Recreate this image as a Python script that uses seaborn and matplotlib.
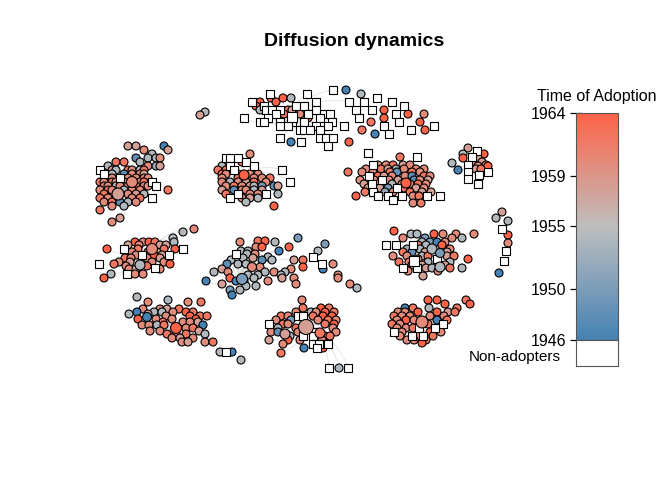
"""
Diffusion dynamics: network plot of adopters coloured by time of adoption.
Node positions are the layout read off the reference picture (pixel units).
"""

import numpy as np
import pandas as pd
import matplotlib
matplotlib.use("Agg")
import matplotlib.pyplot as plt
import seaborn as sns
from matplotlib.colors import LinearSegmentedColormap, Normalize
from matplotlib.collections import LineCollection

# ── data: one block per community, "y = x:code ..." ; code w = non-adopter,
#    digit d = adopted in 1946 + 2*d ─────────────────────────────────────────
LEFT = """
146 = 128:6 136:6 164:0
150 = 144:7 168:6
154 = 152:4
158 = 136:1 148:4 156:4 160:7
162 = 116:8 124:8 140:4
166 = 108:4 148:7 156:3 160:6
170 = 100:w 112:7 116:4 128:8 132:7 140:4 144:8
174 = 104:w 112:4 124:1 132:7 140:7 144:6
178 = 108:8 112:7 120:w 128:7 136:7 144:8 148:7
182 = 100:8 104:7 112:8 116:7 124:7 132:6 140:7 144:8 152:w
186 = 104:8 108:7 116:4 120:7 128:7 136:8 144:7 148:7 156:w
190 = 100:7 108:8 112:7 124:4 132:7 140:7 168:8
194 = 104:8 120:7 128:7 136:6 144:4
198 = 100:8 108:7 116:8 132:7 140:8 152:w
202 = 104:7 112:8 120:1 128:4 136:7
206 = 112:7 124:4
210 = 100:8
218 = 120:6
222 = 112:7
"""

CENTER_LEFT = """
154 = 250:7
158 = 226:w 230:w 238:w
162 = 242:8 246:w
166 = 222:4 230:w 254:w
170 = 218:8 226:8 234:w 282:w
174 = 222:8 226:7 238:7 250:7 258:7
178 = 222:7 238:8 254:7 262:7 270:8
182 = 222:7 230:4 238:7 246:6 254:8 266:7 290:w
186 = 226:7 234:8 242:7 250:6 254:4 262:2 274:1 278:6
190 = 222:6 234:1 242:7 246:7 254:4 262:6
194 = 226:8 238:w 250:7 258:7 266:w 278:4
198 = 230:w 242:7 250:6 258:4
202 = 246:4
206 = 274:9
"""

TOP = """
90 = 333:w 346:0
94 = 270:w 307:w 361:4
98 = 271:9 283:9 291:4 377:w
102 = 252:w 260:9 276:9 316:w 349:w 364:w 392:w
106 = 256:9 264:w 296:w 304:w 404:w
110 = 260:4 266:w 272:w 280:w 288:8 292:6 316:w 356:w 372:w 384:9
114 = 276:w 284:8 300:7 308:w 324:w 330:w 396:w 408:9 424:7
118 = 244:w 268:w 308:9 320:w 359:w 384:9
122 = 260:w 264:w 280:w 292:w 304:w 332:w 371:8 399:w 420:9
126 = 280:w 288:w 316:w 328:w 344:w 384:w 434:w
130 = 300:w 304:w 310:w 320:w 362:8 411:w 425:9
134 = 375:0 389:w
138 = 280:w 320:w 326:w 333:w
142 = 291:0 301:w 349:9
146 = 328:w
"""

TOP_RIGHT = """
148 = 468:6
151 = 477:w
154 = 463:4 484:9
157 = 472:w
158 = 463:9 478:6
162 = 473:7 482:6
163 = 452:4
165 = 468:w 486:7
166 = 478:7 488:9
169 = 476:6 481:8
170 = 458:0
172 = 468:w 488:w
175 = 479:w
179 = 468:w
184 = 478:w
"""

CENTER_RIGHT = """
153 = 368:w
157 = 400:8 417:w
165 = 373:w 378:7 386:7 393:8 403:6 410:7
169 = 366:7 381:8 388:6 396:4 404:7 416:7 424:7
172 = 348:8 362:7 373:7 390:8 397:1 412:8 420:7
176 = 369:w 378:8 384:6 392:7 405:7 412:1 424:8 430:7
180 = 360:7 374:7 382:w 389:7 398:6 414:1 420:7 428:6
184 = 364:6 372:w 378:7 392:4 402:7 410:7 418:8 426:7
188 = 368:7 380:6 388:2 397:w 404:8 416:6 424:7
192 = 365:8 373:w 385:3 393:7 410:8 422:6 431:6
196 = 356:9 378:w 388:w 402:w 413:7 419:8 427:w 440:w
200 = 393:w
203 = 413:7 421:8
"""

MID_LEFT = """
229 = 194:7
232 = 183:4
238 = 173:4
242 = 135:9 143:7 149:9 155:8 174:4
245 = 128:6 139:7 160:6 166:6
249 = 107:9 124:w 138:8 164:8 175:9 183:w
252 = 132:7 148:7 157:6
255 = 136:7 142:w 154:9 162:6 169:w
258 = 125:8 131:7 147:7 160:6
262 = 119:7 130:6 152:7 164:7
264 = 99:w 114:8 170:9
266 = 126:7 147:8
268 = 155:w
269 = 129:7 136:6 160:7
274 = 111:4 127:w 135:7 143:7
278 = 104:9
"""

MID_CENTER = """
238 = 298:2
241 = 258:8 265:9
242 = 240:7 275:4
244 = 325:2
247 = 256:7 262:9 289:9
251 = 241:4 248:4 279:0 318:4
254 = 236:w 247:4 255:7
257 = 268:4 313:w
258 = 243:4 253:6
260 = 231:4 262:1 272:4 294:6 303:8
264 = 227:1 238:4 246:4 322:w 333:7
267 = 260:7 303:9
269 = 222:6 291:7 323:0
272 = 214:4 228:7 265:4 274:7 285:4
275 = 248:4 258:4 281:4 338:7
278 = 230:9 254:4 282:6 294:7 338:7
281 = 206:0 236:0 244:6 268:7
284 = 222:6 296:7 350:7
286 = 246:4 256:4
288 = 357:4
290 = 230:2 240:4
295 = 232:0
"""

MID_RIGHT = """
231 = 394:9
234 = 411:4 417:4 434:9 443:7 456:7 474:7
238 = 403:7 425:2 452:7 462:4
242 = 422:4 430:2 437:0 445:7
245 = 386:w 396:w 413:w 418:8 426:4 442:9
249 = 407:3 420:4 450:7
252 = 403:8 412:1 425:6 447:6
256 = 393:7 407:7 422:4 428:8 447:6 454:8
259 = 418:7 437:w 468:9
262 = 399:8 409:8 428:4 450:4
265 = 412:7 422:6 445:6
268 = 403:w 417:w 426:6 432:4 450:8 462:4
271 = 408:7 438:7
276 = 423:6
"""

BOT_LEFT = """
297 = 137:4
300 = 168:4
302 = 148:7 188:7 201:8
309 = 143:7 160:7 167:6 179:8
312 = 137:0 154:4 162:4 173:7 186:9 193:8
314 = 129:4 148:6
316 = 166:7 190:9 200:8 207:8
319 = 138:9 156:7 172:7 196:9
322 = 163:8 183:7 190:7 198:6
325 = 142:7 149:7 157:4 164:8 203:0
328 = 186:7 193:8
331 = 150:7 160:7 199:6
334 = 167:8 176:7 186:8 205:4
338 = 172:7 180:6 193:7
342 = 182:7 188:6 205:7 213:8
352 = 220:4 226:w 232:0
360 = 241:4
"""

BOT_CENTER = """
300 = 302:7
308 = 303:8 321:9 329:8
312 = 296:7 311:4 316:7 325:9 334:8
316 = 281:8 288:7 298:w 303:w 313:8 323:9 332:9
320 = 276:7 291:2 318:7 328:8 336:7
324 = 269:w 283:8 288:7 325:8 334:9
328 = 278:4 296:8 333:7
332 = 271:7 278:1 298:7 314:w 336:7
336 = 290:4 303:w 313:w 325:7 330:8
340 = 269:6 288:9 300:7 322:7
344 = 283:7 313:w 319:w 328:w
348 = 304:0 317:w 323:9
353 = 281:8
368 = 329:w 339:4 348:w
"""

BOT_RIGHT = """
300 = 428:9 437:9 466:8
304 = 445:9 470:9
308 = 405:0 413:8 429:4 457:8
312 = 398:7 405:7 418:9 437:9 448:6 455:8
316 = 394:8 402:7 410:7 430:7 444:7
320 = 397:7 406:9 414:7 437:0 447:8
324 = 392:8 400:7 428:8 443:w
328 = 397:7 406:7 413:8 419:w 435:w
332 = 394:w 402:7 430:9 441:7
336 = 400:7 412:w 418:7 423:w 433:8
340 = 407:7 414:7 426:8
343 = 422:9
"""

STRAY = """
112 = 205:4
115 = 200:6
212 = 502:6
218 = 496:4
221 = 508:4
229 = 502:w
235 = 508:9
243 = 508:7
251 = 506:w
261 = 504:w
273 = 499:0
"""

# large (central) vertices
HUB_GROUP = ["left", "left", "center_left", "top", "center_right",
             "mid_left", "mid_left", "mid_center", "mid_center",
             "mid_right", "mid_right", "mid_right", "mid_right",
             "bot_left", "bot_left", "bot_center", "bot_center",
             "bot_center", "bot_right"]
HUB_X    = [132, 118, 244, 292, 406, 152, 140, 242, 252,
            432, 440, 414, 440, 176, 147, 306, 285, 320, 422]
HUB_Y    = [182, 194, 175, 117, 183, 249, 265, 279, 267,
            249, 253, 261, 267, 328, 317, 327, 334, 333, 322]
HUB_CODE = ["7", "6", "9", "w", "9", "7", "4", "2", "7",
            "4", "2", "w", "4", "9", "0", "6", "6", "8", "7"]
HUB_PX   = [11, 12, 10, 10, 10, 11, 10, 11, 9,
            10, 9, 10, 10, 11, 9, 15, 10, 10, 12]

YEAR_TICKS = [1946, 1950, 1955, 1959, 1964]
YEAR_MIN, YEAR_MAX = 1946, 1964

BLOCKS = {
    "left": LEFT, "center_left": CENTER_LEFT, "top": TOP,
    "top_right": TOP_RIGHT, "center_right": CENTER_RIGHT,
    "mid_left": MID_LEFT, "mid_center": MID_CENTER, "mid_right": MID_RIGHT,
    "bot_left": BOT_LEFT, "bot_center": BOT_CENTER, "bot_right": BOT_RIGHT,
    "stray": STRAY,
}


def parse_block(block, group):
    rows = []
    for line in block.strip().splitlines():
        y, rest = line.split("=")
        for tok in rest.split():
            x, code = tok.split(":")
            rows.append((group, float(x), float(y), code))
    return rows


def code_to_year(code):
    if code == "w":
        return np.nan
    return min(YEAR_MIN + 2 * int(code), YEAR_MAX)


def curved(p0, p1, rad=0.25, n=14):
    p0, p1 = np.asarray(p0), np.asarray(p1)
    mid = (p0 + p1) / 2
    d = p1 - p0
    ctrl = mid + rad * np.array([-d[1], d[0]])
    t = np.linspace(0, 1, n)[:, None]
    return (1 - t) ** 2 * p0 + 2 * (1 - t) * t * ctrl + t ** 2 * p1


def main():
    rows = []
    for g, b in BLOCKS.items():
        rows += parse_block(b, g)
    nodes = pd.DataFrame(rows, columns=["group", "x", "y", "code"])
    nodes["year"] = nodes["code"].map(code_to_year)

    hubs = pd.DataFrame({"group": HUB_GROUP, "x": HUB_X, "y": HUB_Y,
                         "code": HUB_CODE, "px": HUB_PX})
    hubs["year"] = hubs["code"].map(code_to_year)
    hubs["area"] = (0.72 * hubs["px"]) ** 2

    cmap = LinearSegmentedColormap.from_list(
        "adoption", ["steelblue", "#BEBEBE", "tomato"])
    norm = Normalize(YEAR_MIN, YEAR_MAX)

    sns.set_style("white")
    plt.rcParams["font.family"] = ["Liberation Sans", "DejaVu Sans"]
    plt.rcParams["text.color"] = "black"
    plt.rcParams["ytick.color"] = "black"
    plt.rcParams["ytick.labelcolor"] = "black"

    fig = plt.figure(figsize=(6.72, 4.8), dpi=100)
    ax = fig.add_axes([0, 0, 1, 1])

    # ── edges: every vertex tied to the centre of its community ──────────────
    segs = []
    for g, sub in nodes.groupby("group"):
        if g == "stray":
            continue
        h = hubs[hubs["group"] == g]
        anchor = (h[["x", "y"]].iloc[0].values if len(h)
                  else sub[["x", "y"]].mean().values)
        for _, r in sub.iterrows():
            dist = np.hypot(r.x - anchor[0], r.y - anchor[1])
            if 3 < dist < 60:
                segs.append(curved((r.x, r.y), anchor))
    ax.add_collection(LineCollection(segs, colors="#cfcfcf",
                                     linewidths=0.6, alpha=0.6, zorder=1))

    # ── vertices ─────────────────────────────────────────────────────────────
    adopters = nodes[nodes["year"].notna()]
    non_adopt = nodes[nodes["year"].isna()]
    sns.scatterplot(data=adopters, x="x", y="y", hue="year", palette=cmap,
                    hue_norm=norm, s=33, edgecolor="black", linewidth=0.8,
                    legend=False, ax=ax, zorder=3)
    sns.scatterplot(data=non_adopt, x="x", y="y", marker="s", color="white",
                    s=33, edgecolor="black", linewidth=0.8,
                    legend=False, ax=ax, zorder=4)

    hub_a = hubs[hubs["year"].notna()]
    hub_n = hubs[hubs["year"].isna()]
    sns.scatterplot(data=hub_a, x="x", y="y", hue="year", palette=cmap,
                    hue_norm=norm, size="area",
                    sizes={a: a for a in hub_a["area"].unique()},
                    edgecolor="black", linewidth=0.8, legend=False,
                    ax=ax, zorder=5)
    sns.scatterplot(data=hub_n, x="x", y="y", marker="s", color="white",
                    size="area", sizes={a: a for a in hub_n["area"].unique()},
                    edgecolor="black", linewidth=0.8, legend=False,
                    ax=ax, zorder=5)

    ax.set_xlim(0, 672)
    ax.set_ylim(480, 0)
    ax.axis("off")

    fig.text(354 / 672, 1 - 41 / 480, "Diffusion dynamics", ha="center",
             va="center", fontsize=14, fontweight="bold", color="black")

    # ── colour key ───────────────────────────────────────────────────────────
    cax = fig.add_axes([576 / 672, 1 - 339.5 / 480, 42 / 672, 226.5 / 480])
    cb = fig.colorbar(plt.cm.ScalarMappable(norm=norm, cmap=cmap),
                      cax=cax, ticks=YEAR_TICKS)
    cb.outline.set_edgecolor("#555555")
    cb.outline.set_linewidth(0.8)
    cax.yaxis.set_ticks_position("left")
    cax.tick_params(direction="inout", length=8, width=0.9,
                    labelsize=11.5, pad=3, colors="black")

    nax = fig.add_axes([576 / 672, 1 - 366 / 480, 42 / 672, 26.5 / 480])
    nax.set_facecolor("white")
    nax.set_xticks([])
    nax.set_yticks([])
    for sp in nax.spines.values():
        sp.set_edgecolor("#555555")
        sp.set_linewidth(0.8)

    fig.text(597 / 672, 1 - 97 / 480, "Time of Adoption", ha="center",
             va="center", fontsize=11.5, color="black")
    fig.text(561 / 672, 1 - 357 / 480, "Non-adopters", ha="right",
             va="center", fontsize=11, color="black")

    fig.savefig("out.png", dpi=100)
    plt.close(fig)


if __name__ == "__main__":
    main()
